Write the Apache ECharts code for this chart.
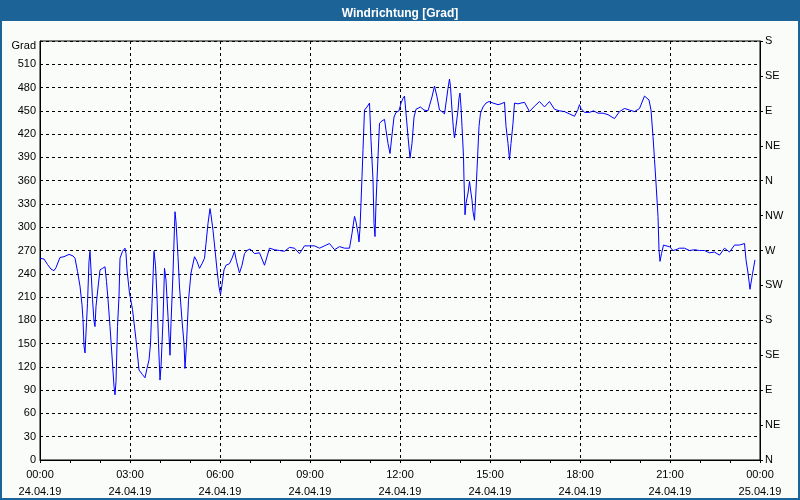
<!DOCTYPE html>
<html>
<head>
<meta charset="utf-8">
<script src="https://cdn.jsdelivr.net/npm/echarts@6/dist/echarts.min.js"></script>
<style>
html,body{margin:0;padding:0;background:#fafcfa;}
#c{width:800px;height:500px;}
</style>
</head>
<body>
<div id="c"></div>
<script>
// Minutes since 24.04.19 00:00
var minutes = [0,8,15,22,28,32,40,48,58,66,70,75,80,84,86,88,90,93,95,98,100,102,105,108,110,112,117,120,125,130,133,136,140,144,148,150,152,155,158,160,165,170,172,174,179,185,192,198,205,210,214,218,221,224,228,231,234,237,240,242,246,249,252,256,260,262,266,269,270,272,276,279,284,288,290,293,297,302,309,314,319,324,329,332,336,340,342,346,350,354,358,361,364,368,372,379,384,389,393,399,404,409,414,420,429,439,449,459,469,479,489,499,509,519,529,539,549,559,569,579,589,599,609,619,624,629,632,636,638,640,642,644,646,649,654,659,662,666,668,670,672,676,679,684,689,692,696,700,704,708,712,718,722,726,729,732,736,740,744,748,752,761,768,776,784,789,794,799,804,809,812,816,819,821,824,827,829,832,836,838,840,842,844,847,848,850,852,856,859,862,864,866,869,871,874,878,881,886,892,898,906,916,922,929,932,936,939,942,946,949,956,962,969,979,989,999,1009,1019,1029,1039,1049,1059,1069,1076,1079,1082,1089,1099,1107,1116,1126,1136,1149,1159,1169,1179,1189,1199,1209,1218,1222,1226,1229,1232,1236,1238,1240,1243,1247,1252,1259,1266,1272,1279,1289,1299,1309,1319,1329,1339,1349,1359,1369,1379,1389,1399,1409,1412,1416,1420,1425,1430];
// Wind direction in degrees
var degrees = [260,259,252,246,244,248,261,262,265,263,260,243,224,200,181,147,138,177,202,256,269,245,207,179,172,198,228,245,247,249,230,207,172,134,95,84,101,172,211,260,269,273,266,245,215,194,155,116,110,106,118,129,150,202,269,251,210,150,103,120,180,247,232,185,135,176,241,301,320,307,262,223,180,150,118,150,206,241,262,256,247,253,260,279,305,324,316,296,271,245,223,213,226,245,251,253,260,269,256,241,251,266,270,272,266,267,251,273,271,270,269,274,273,266,276,276,276,273,276,279,271,275,273,273,292,314,307,292,281,299,331,365,400,451,455,460,412,361,305,288,331,391,434,437,439,425,408,395,419,442,448,450,460,466,469,447,417,389,408,442,452,455,451,450,468,482,468,451,449,446,460,479,491,481,451,425,415,430,451,466,473,455,430,391,361,316,331,344,359,344,335,320,309,335,374,430,447,455,460,462,460,458,459,461,430,408,387,408,434,460,459,460,461,449,456,462,455,462,452,450,449,446,443,452,458,453,448,448,450,447,447,445,440,449,453,451,449,453,469,464,451,417,387,357,314,271,256,266,277,276,275,270,271,273,273,270,271,270,270,267,268,264,273,268,277,277,279,258,241,220,240,258];

var timeLabels = ["00:00","03:00","06:00","09:00","12:00","15:00","18:00","21:00","00:00"];
var dateLabels = ["24.04.19","24.04.19","24.04.19","24.04.19","24.04.19","24.04.19","24.04.19","24.04.19","25.04.19"];
var leftTicks = [0,30,60,90,120,150,180,210,240,270,300,330,360,390,420,450,480,510];
var leftUnit = "Grad";
var compass = ["N","NE","E","SE","S","SW","W","NW","N","NE","E","SE","S"];
var titleText = "Windrichtung [Grad]";

var seriesData = minutes.map(function(m,i){return [m, degrees[i]];});

var FONT = "Liberation Sans";
var chart = echarts.init(document.getElementById('c'), null, {renderer:'canvas'});
chart.setOption({
  animation:false,
  backgroundColor:'#fafcfa',
  title:{
    text:titleText, left:'center', top:3,
    textStyle:{color:'#ffffff', fontSize:12, fontWeight:'bold', fontFamily:FONT}
  },
  graphic:[
    {type:'rect', z:-1, shape:{x:0,y:0,width:800,height:21}, style:{fill:'#1c6397'}},
    {type:'rect', z:100, shape:{x:1,y:1,width:798,height:498}, style:{fill:'none', stroke:'#1c6397', lineWidth:2}}
  ],
  grid:{left:40, right:40, top:41, bottom:40, show:true, backgroundColor:'#fafcfa', borderColor:'#000', borderWidth:1},
  xAxis:{
    type:'value', min:0, max:1440, interval:180,
    axisLine:{show:true, lineStyle:{color:'#000', width:1}},
    axisTick:{show:true, length:3, lineStyle:{color:'#000'}},
    minorTick:{show:true, splitNumber:3, length:3, lineStyle:{color:'#000'}},
    splitLine:{show:true, lineStyle:{color:'#000', type:[3,3], width:1}},
    axisLabel:{
      margin:6, fontSize:11, fontFamily:FONT, color:'#000', lineHeight:17,
      formatter:function(v){var i=Math.round(v/180); return timeLabels[i]+'\n'+dateLabels[i];}
    }
  },
  yAxis:[
    {
      type:'value', min:0, max:540, interval:30, position:'left',
      axisLine:{show:true, lineStyle:{color:'#000', width:1}},
      axisTick:{show:false},
      splitLine:{show:true, lineStyle:{color:'#000', type:[3,3], width:1}},
      axisLabel:{margin:4, fontSize:11, fontFamily:FONT, color:'#000',
        rich:{g:{fontSize:11, fontFamily:FONT, color:'#000', padding:[10,0,0,0]}},
        formatter:function(v){ return v===540 ? '{g|'+leftUnit+'}' : (leftTicks.indexOf(v)>=0 ? String(v) : ''); }}
    },
    {
      type:'value', min:0, max:540, interval:45, position:'right',
      axisLine:{show:true, lineStyle:{color:'#000', width:1}},
      axisTick:{show:true, length:3, lineStyle:{color:'#000'}},
      splitLine:{show:false},
      axisLabel:{margin:5, fontSize:11, fontFamily:FONT, color:'#000',
        formatter:function(v){ return compass[Math.round(v/45)]; }}
    }
  ],
  series:[{
    type:'line', data:seriesData, yAxisIndex:0, showSymbol:false, symbol:'none',
    lineStyle:{color:'#0000ff', width:1}, silent:true
  }]
});
</script>
</body>
</html>
